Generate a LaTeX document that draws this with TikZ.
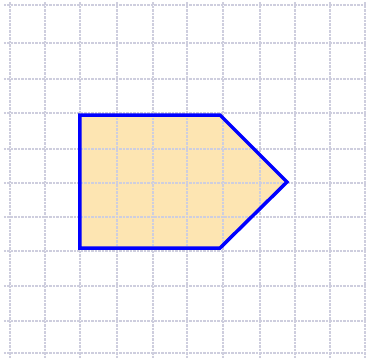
\documentclass[tikz,border=0pt]{standalone}
\begin{document}
\begin{tikzpicture}[x=1pt,y=-1pt,
  gridline/.style={draw={rgb,255:red,206;green,206;blue,222}, line width=1.6pt, dash pattern=on 2.5pt off 1pt},
  shapefill/.style={fill={rgb,255:red,253;green,229;blue,178}},
  shapeedge/.style={draw={rgb,255:red,0;green,0;blue,255}, line width=3.5pt, line join=miter}]
\useasboundingbox (0,0) rectangle (368,360);
\fill[white] (0,0) rectangle (368,360);
\coordinate (p1) at (80,115);
\coordinate (p2) at (220,115);
\coordinate (p3) at (287,182);
\coordinate (p4) at (220,248);
\coordinate (p5) at (80,248);
\fill[shapefill] (p1) -- (p2) -- (p3) -- (p4) -- (p5) -- cycle;
\foreach \x in {10,45,80,117,153,187,223,260,295,330,365}
  \draw[gridline] (\x,2) -- (\x,358);
\foreach \y in {5,43,79,113,149,183,217,251,286,321,353}
  \draw[gridline] (4,\y) -- (366,\y);
\draw[shapeedge] (p1) -- (p2) -- (p3) -- (p4) -- (p5) -- cycle;
\end{tikzpicture}
\end{document}
